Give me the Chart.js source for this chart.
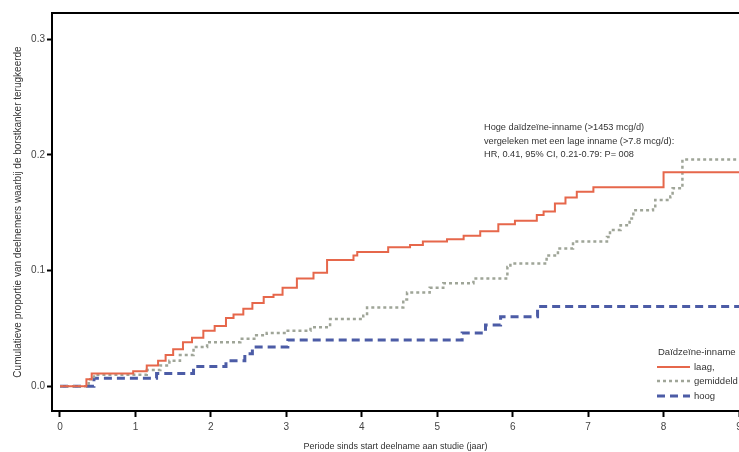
<!DOCTYPE html>
<html>
<head>
<meta charset="utf-8">
<script src="https://cdn.jsdelivr.net/npm/chart.js@4/dist/chart.umd.min.js"></script>
<style>
  html, body { margin: 0; padding: 0; background: #fff; }
  #wrap { position: relative; width: 739px; height: 452px; }
  #note { position: absolute; left: 484px; top: 121px; font: 9.2px "Liberation Sans", Arial, sans-serif; color: #333; line-height: 13.5px; white-space: nowrap; }
</style>
</head>
<body>
<div id="wrap">
  <canvas id="c" width="739" height="452"></canvas>
  <div id="note">Hoge daïdzeïne-inname (&gt;1453 mcg/d)<br>vergeleken met een lage inname (&gt;7.8 mcg/d):<br>HR, 0.41, 95% CI, 0.21-0.79: P= 008</div>
</div>
<script>
// ---- data ----
const xTicks = [0, 1, 2, 3, 4, 5, 6, 7, 8, 9];
const yTicks = [0.0, 0.1, 0.2, 0.3];
const yTickLabels = ['0.0', '0.1', '0.2', '0.3'];
const seriesNames = ['laag,', 'gemiddeld', 'hoog'];

const laagT = [0, 0.35, 0.42, 0.97, 1.15, 1.3, 1.4, 1.5, 1.63, 1.75, 1.9, 2.05, 2.2, 2.3, 2.43, 2.55, 2.7, 2.83, 2.95, 3.14, 3.36, 3.54, 3.89, 3.94, 4.35, 4.64, 4.81, 5.13, 5.35, 5.57, 5.81, 6.03, 6.32, 6.41, 6.56, 6.7, 6.85, 7.07, 8.0, 9.0];
const laagV = [0, 0.006, 0.011, 0.013, 0.018, 0.022, 0.027, 0.032, 0.038, 0.042, 0.048, 0.052, 0.059, 0.062, 0.067, 0.072, 0.077, 0.079, 0.085, 0.093, 0.098, 0.109, 0.113, 0.116, 0.120, 0.122, 0.125, 0.127, 0.130, 0.134, 0.140, 0.143, 0.148, 0.151, 0.158, 0.163, 0.168, 0.172, 0.185, 0.185];

const gemT = [0, 0.38, 0.45, 1.15, 1.33, 1.45, 1.59, 1.77, 1.95, 2.39, 2.6, 2.74, 3.0, 3.32, 3.58, 4.02, 4.07, 4.55, 4.6, 4.9, 5.08, 5.48, 5.93, 5.97, 6.45, 6.6, 6.8, 7.25, 7.29, 7.43, 7.55, 7.6, 7.86, 7.89, 8.09, 8.12, 8.25, 9.0];
const gemV = [0, 0.006, 0.010, 0.014, 0.018, 0.022, 0.027, 0.034, 0.038, 0.041, 0.044, 0.046, 0.048, 0.051, 0.058, 0.061, 0.068, 0.075, 0.081, 0.085, 0.089, 0.093, 0.103, 0.106, 0.113, 0.119, 0.125, 0.129, 0.135, 0.139, 0.145, 0.152, 0.154, 0.161, 0.164, 0.171, 0.196, 0.196];

const hoogT = [0, 0.45, 1.28, 1.77, 2.2, 2.45, 2.55, 3.02, 5.33, 5.64, 5.84, 6.33, 9.0];
const hoogV = [0, 0.007, 0.011, 0.017, 0.022, 0.028, 0.034, 0.040, 0.046, 0.053, 0.060, 0.069, 0.069];

const toPts = (t, v) => t.map((x, i) => ({ x: x, y: v[i] }));

const FONT = '"Liberation Sans", Arial, sans-serif';

const legendPlugin = {
  id: 'kmLegend',
  afterDraw(chart) {
    const ctx = chart.ctx;
    ctx.save();
    ctx.font = '9.5px ' + FONT;
    ctx.fillStyle = '#333';
    ctx.textBaseline = 'middle';
    ctx.fillText('Daïdzeïne-inname', 658, 352);
    const rows = [367, 381, 396];
    chart.data.datasets.forEach((ds, i) => {
      const y = rows[i];
      ctx.strokeStyle = ds.borderColor;
      ctx.lineWidth = ds.borderWidth;
      ctx.setLineDash(ds.borderDash || []);
      ctx.beginPath();
      ctx.moveTo(657, y);
      ctx.lineTo(690, y);
      ctx.stroke();
      ctx.setLineDash([]);
      ctx.fillStyle = '#333';
      ctx.fillText(ds.label, 694, y);
    });
    ctx.restore();
  }
};

new Chart(document.getElementById('c'), {
  type: 'line',
  data: {
    datasets: [
      { label: seriesNames[0], data: toPts(laagT, laagV), borderColor: '#e6674b', borderWidth: 2, stepped: true, pointRadius: 0, fill: false },
      { label: seriesNames[1], data: toPts(gemT, gemV), borderColor: '#9fa598', borderWidth: 2.5, borderDash: [3, 3], stepped: true, pointRadius: 0, fill: false },
      { label: seriesNames[2], data: toPts(hoogT, hoogV), borderColor: '#4c5ca6', borderWidth: 3, borderDash: [8, 5], stepped: true, pointRadius: 0, fill: false }
    ]
  },
  options: {
    responsive: false,
    animation: false,
    layout: { padding: 0 },
    plugins: { legend: { display: false }, tooltip: { enabled: false } },
    scales: {
      x: {
        type: 'linear', position: 'bottom', min: -0.106, max: 9.0,
        afterBuildTicks: s => { s.ticks = xTicks.map(v => ({ value: v })); },
        afterFit: s => { s.height = 41; s.paddingLeft = 0; s.paddingRight = 0; },
        ticks: { color: '#444', font: { family: FONT, size: 10 }, padding: 4, maxRotation: 0, autoSkip: false, callback: v => String(v) },
        grid: { drawOnChartArea: false, drawTicks: true, tickLength: 6, tickColor: '#000', tickWidth: 2 },
        border: { display: true, color: '#000', width: 2 },
        title: { display: true, text: 'Periode sinds start deelname aan studie (jaar)', color: '#333', font: { family: FONT, size: 9 }, padding: { top: 0, bottom: 0 } }
      },
      xTop: {
        type: 'linear', position: 'top', min: -0.106, max: 9.0,
        ticks: { display: false },
        grid: { display: false },
        border: { display: true, color: '#000', width: 2 },
        afterFit: s => { s.height = 13; s.paddingLeft = 0; s.paddingRight = 0; }
      },
      y: {
        type: 'linear', position: 'left', min: -0.0214, max: 0.3225,
        afterBuildTicks: s => { s.ticks = yTicks.map(v => ({ value: v })); },
        afterFit: s => { s.width = 52; },
        ticks: { color: '#444', font: { family: FONT, size: 10 }, padding: 2, callback: (v) => { const i = yTicks.findIndex(t => Math.abs(t - v) < 1e-9); return i >= 0 ? yTickLabels[i] : ''; } },
        grid: { drawOnChartArea: false, drawTicks: true, tickLength: 5, tickColor: '#000', tickWidth: 2 },
        border: { display: true, color: '#000', width: 2 },
        title: { display: true, text: 'Cumulatieve proportie van deelnemers waarbij de borstkanker terugkeerde', color: '#333', font: { family: FONT, size: 10 }, padding: { top: 12, bottom: 0 } }
      }
    }
  },
  plugins: [legendPlugin]
});
</script>
</body>
</html>
